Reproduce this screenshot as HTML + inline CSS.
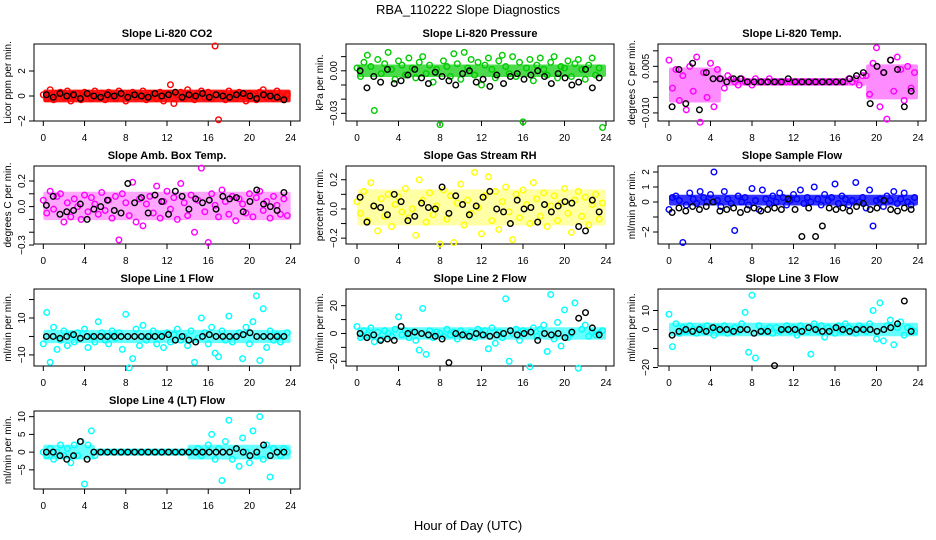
<!DOCTYPE html>
<html><head><meta charset="utf-8"><style>
body{margin:0;background:#fff}
svg{display:block;font-family:"Liberation Sans",sans-serif}
</style></head><body>
<svg id="chart" width="936" height="540" viewBox="0 0 936 540">
<text x="468" y="14" text-anchor="middle" font-size="13">RBA_110222  Slope Diagnostics</text>
<text x="468" y="530" text-anchor="middle" font-size="13">Hour of Day (UTC)</text>
</svg>
<script>
// ---- data ----
const xTicks=[0,4,8,12,16,20,24];
const co2Color=[0.1,-0.2,0.5,-0.3,0.2,0.3,-0.1,0.4,-0.4,0.0,0.2,-0.3,0.3,0.1,-0.2,0.4,-0.1,0.2,-0.3,0.3,0.0,-0.2,0.4,0.1,-0.4,0.2,0.3,-0.1,0.0,0.4,-0.3,0.2,0.1,-0.2,0.3,-0.4,0.2,0.9,-0.6,0.1,0.3,-0.2,0.5,0.0,-0.3,0.2,0.4,-0.1,0.3,-0.2,4.0,-1.9,0.2,-0.3,0.4,0.1,-0.2,0.3,0.0,-0.4,0.2,0.1,-0.3,0.3,0.5,-0.1,0.2,-0.2,0.4,0.0,-0.3,0.1];
const co2Black=[0.1,-0.1,0.2,0.0,0.1,-0.2,0.2,0.0,-0.1,0.1,0.0,0.2,-0.1,0.1,0.0,-0.1,0.2,0.0,0.1,0.3,-0.1,0.1,0.0,0.2,-0.1,0.1,0.0,-0.1,0.1,0.2,0.0,-0.2,0.1,0.0,-0.1,-0.3];
const presColor=[0.002,-0.004,0.006,0.011,0.003,-0.028,0.008,-0.002,0.005,0.013,0.001,-0.006,0.007,0.004,-0.003,0.009,0.002,-0.005,0.006,0.010,-0.002,0.004,-0.008,0.001,-0.038,0.007,0.003,-0.004,0.012,0.005,-0.006,0.013,0.002,0.008,-0.003,0.006,-0.010,0.004,0.009,0.001,-0.005,0.007,0.011,0.003,-0.002,0.010,-0.004,0.006,-0.036,0.002,0.008,-0.007,0.004,0.009,0.001,-0.003,0.006,0.010,-0.005,0.003,0.002,0.007,-0.004,0.005,0.008,0.001,-0.006,0.004,0.009,-0.003,0.002,-0.040];
const presBlack=[0.000,-0.012,-0.004,-0.008,0.001,-0.009,-0.007,-0.003,0.001,-0.005,-0.009,-0.001,-0.004,-0.007,-0.010,-0.002,0.000,-0.008,-0.006,-0.011,-0.003,-0.009,-0.004,-0.002,-0.006,-0.003,0.000,-0.004,-0.009,-0.002,-0.005,-0.010,-0.008,0.001,-0.012,-0.005];
const tempColor=[0.007,-0.002,0.004,-0.006,0.002,-0.009,0.005,-0.003,0.008,-0.013,0.003,-0.005,0.006,-0.008,0.004,0.001,-0.002,0.002,0.001,0,-0.001,0.001,0,0,-0.001,0.001,0,0,0,0.001,0,0,0,0,0,0,0,0,0,0,0,0,0,0,0,0,0,0,0,0,0,0,0.001,0,0.001,-0.001,0.002,0.002,-0.004,0.006,0.011,-0.008,0.003,-0.012,0.007,-0.003,0.008,0.004,-0.006,0.005,-0.002,0.003];
const tempBlack=[-0.008,0.004,-0.007,0.006,-0.009,0.003,0.001,0.001,0.000,0.001,0.001,0,0,0,0,0,0,0.001,0,0,0,0,0,0,0,0,0.001,0.002,0.003,-0.007,0.005,0.003,0.007,0.004,-0.008,-0.003];
const ambColor=[0.05,-0.05,0.12,-0.02,0.08,0.10,-0.12,0.03,-0.08,0.06,0.00,-0.10,0.09,-0.04,0.07,0.02,-0.06,0.11,-0.03,0.05,-0.09,0.08,-0.26,0.10,0.03,-0.07,0.19,-0.12,0.06,-0.15,0.02,0.08,-0.05,0.16,-0.09,0.04,0.12,-0.02,0.07,-0.10,0.18,0.03,-0.07,0.09,-0.20,0.05,0.30,-0.04,-0.28,0.10,0.01,-0.08,0.13,0.04,-0.06,0.08,-0.11,0.06,0.02,-0.05,0.10,-0.08,0.07,0.12,-0.03,0.04,-0.09,0.08,0.01,-0.06,0.06,-0.07];
const ambBlack=[0.01,0.08,-0.06,-0.04,-0.03,0.02,-0.10,-0.02,0.00,0.05,-0.03,-0.05,0.18,0.03,0.07,-0.05,0.09,0.04,-0.06,0.12,0.08,-0.02,0.06,0.03,0.05,-0.02,0.08,0.06,0.07,-0.04,0.04,0.13,0.02,0.00,-0.03,0.11];
const rhColor=[0.05,-0.03,0.12,-0.08,0.18,0.02,-0.15,0.07,-0.05,0.10,-0.12,0.03,0.08,-0.02,0.14,-0.06,0.00,-0.18,0.20,0.06,-0.09,0.11,-0.04,0.02,-0.24,0.13,-0.07,0.09,-0.23,0.04,0.17,-0.11,0.06,-0.03,0.25,0.01,-0.17,0.09,0.22,-0.08,0.12,-0.14,0.05,0.15,-0.02,-0.21,0.10,-0.06,0.13,0.03,-0.10,0.18,0.07,-0.05,0.11,-0.12,0.02,0.09,-0.08,0.04,0.14,-0.03,-0.16,0.06,0.12,-0.05,0.08,-0.11,0.03,0.10,-0.07,0.04];
const rhBlack=[0.08,-0.09,0.02,0.01,-0.04,0.10,0.05,-0.08,-0.05,0.04,0.01,0.00,0.15,-0.03,0.09,0.03,-0.04,0.02,0.08,0.12,0.00,-0.02,-0.10,0.06,0.00,0.01,-0.09,0.03,-0.02,0.02,0.05,0.04,-0.12,-0.15,0.06,-0.02];
const flowColor=[-0.5,0.3,0.4,0.1,-2.7,-0.2,0.6,0.2,-0.1,0.7,0.3,0.0,0.5,2.0,0.1,-0.3,0.7,0.2,-0.1,-1.9,0.4,0.0,0.3,-0.2,0.9,0.1,-0.5,0.8,0.2,-0.1,0.4,0.0,0.6,0.3,-0.2,0.1,0.5,0.2,0.8,-0.1,0.3,0.0,1.0,0.2,-0.2,0.5,0.1,0.3,1.2,-0.1,0.4,0.2,-0.2,0.1,1.3,0.0,0.3,-0.4,0.8,-1.6,0.1,0.2,-0.3,0.4,0.1,0.7,-0.1,0.2,0.6,0.0,-0.2,0.3];
const flowBlack=[-0.7,-0.4,-0.6,-0.3,-0.5,-0.3,0.0,-0.6,-0.5,-0.4,-0.7,-0.5,-0.4,-0.6,-0.5,-0.4,-0.5,0.2,-0.5,-2.3,-0.4,-2.3,-1.6,-0.4,-0.5,-0.4,-0.6,-0.3,-0.1,-0.5,-0.4,0.1,-0.5,-0.6,-0.4,-0.5];
const l1Color=[-4,13,-14,5,-7,-2,3,-5,1,-3,2,-1,4,-6,0,-3,8,2,-2,-4,3,-1,2,-7,12,-17,-12,4,-5,6,-2,0,3,-4,1,-6,2,-3,1,4,-2,0,-5,3,-14,-1,10,2,-4,5,-9,-11,3,-2,11,-3,0,2,-12,5,-4,8,22,-13,15,-6,3,-2,1,-3,0,2];
const l1Black=[0,0,-1,0,1,-1,0,0,0,0,0,0,0,0,0,0,0,0,1,-2,0,-2,-3,0,1,0,0,0,0,1,2,0,0,0,0,0];
const l2Color=[5,-3,2,-1,4,-6,1,-4,2,0,-2,3,12,-1,2,-3,1,-5,-12,18,-15,2,-3,1,0,-2,3,-1,1,-4,2,0,-2,1,-3,3,-1,2,-11,4,-7,1,-3,25,-20,0,3,-5,2,1,-24,4,-2,3,6,-13,28,-4,8,-9,17,-3,0,22,-25,3,6,-2,1,-1,0,2];
const l2Black=[0,-3,-1,-5,-4,-5,5,0,1,0,-1,-2,-4,-21,0,-1,-2,0,-1,-2,-1,0,2,-1,0,1,-5,0,-1,0,-3,1,11,15,4,-1];
const l3Color=[8,-9,3,-2,1,-1,2,0,-2,1,-1,2,0,-3,1,-1,2,-2,0,1,-1,3,9,-12,18,-15,2,-1,0,1,-2,1,-1,0,2,-1,1,-3,2,0,-1,-13,3,-1,2,-4,1,0,-2,2,-1,3,1,0,-2,2,1,-1,3,10,-5,14,-6,2,5,-8,1,4,-3,1,0,-1];
const l3Black=[-3,-1,0,-1,0,-1,1,0,0,-1,0,0,-2,-1,-1,-19,0,0,0,-1,1,0,-1,-1,1,0,-1,0,0,0,-1,0,1,3,15,-1];
const l4Color=[0,-1,1,-2,0,2,-1,1,-3,2,-1,3,-9,2,6,-1,0,0,0,0,0,0,0,0,0,0,0,0,0,0,0,0,0,0,0,0,0,0,0,0,0,0,0,0,0,1,-1,0,2,5,-2,1,-8,3,9,-2,1,-4,4,0,-3,6,-1,10,-2,2,-7,1,0,-1,1,0];
const l4Black=[0,0,-1,-2,-1,3,-2,0,0,0,0,0,0,0,0,0,0,0,0,0,0,0,0,0,0,0,0,0,1,0,-1,0,2,-1,0,0];
// dense-band extents: [startHour, endHour, low, high]
const co2Band=[[0,24,-0.35,0.35]];
const presBand=[[0,24,-0.003,0.003]];
const tempBand=[[0,5,-0.006,0.004],[5,19,-0.0006,0.0006],[19,24,-0.005,0.005]];
const ambBand=[[0,24,-0.09,0.1]];
const rhBand=[[0,24,-0.1,0.12]];
const flowBand=[[0,24,-0.1,0.35]];
const l1Band=[[0,24,-2.5,2.5]];
const l2Band=[[0,24,-3,3]];
const l3Band=[[0,24,-2.5,2.5]];
const l4Band=[[0,5,-1.5,1.5],[5,14,-0.4,0.4],[14,24,-1.5,1.5]];
const panelTitles=["Slope Li-820 CO2","Slope Li-820 Pressure","Slope Li-820 Temp.","Slope Amb. Box Temp.","Slope Gas Stream RH","Slope Sample Flow","Slope Line 1 Flow","Slope Line 2 Flow","Slope Line 3 Flow","Slope Line 4 (LT) Flow"];
const yTitles=["Licor ppm per min.","kPa per min.","degrees C per min.","degrees C per min.","percent per min.","ml/min per min.","ml/min per min.","ml/min per min.","ml/min per min.","ml/min per min."];
const yTickVals=[[-2,0,2],[0.01,0,-0.01,-0.02,-0.03],[0.01,0.005,0,-0.005,-0.01],[0.2,0.1,0,-0.1,-0.2,-0.3],[0.2,0.1,0,-0.1,-0.2],[2,1,0,-1,-2],[20,10,0,-10],[20,10,0,-10,-20],[10,0,-10,-20],[10,5,0,-5]];
const yTickLabels=[["-2","0","2"],["","0.00","","","-0.03"],["","0.005","","","-0.010"],["0.2","","0.0","","","-0.3"],["0.2","","0.0","","-0.2"],["2","1","0","","-2"],["","10","","-10"],["20","","0","","-20"],["10","0","","-20"],["10","5","0","-5"]];
const colorSeries=[co2Color,presColor,tempColor,ambColor,rhColor,flowColor,l1Color,l2Color,l3Color,l4Color];
const blackSeries=[co2Black,presBlack,tempBlack,ambBlack,rhBlack,flowBlack,l1Black,l2Black,l3Black,l4Black];
const bandSeries=[co2Band,presBand,tempBand,ambBand,rhBand,flowBand,l1Band,l2Band,l3Band,l4Band];
const seriesColors=["#ff0000","#00cc00","#ff00ff","#ff00ff","#ffff00","#0000ff","#00ffff","#00ffff","#00ffff","#00ffff"];
const bandOpacity=[0.9,0.7,0.45,0.35,0.35,0.8,0.6,0.6,0.6,0.6];
// ---- layout ----
const cols=[{l:34,r:300,x0:43.3,x24:290.7},{l:346,r:614,x0:357,x24:606},{l:658,r:926,x0:669,x24:918}];
const rows=[{t:44,b:121},{t:166,b:244},{t:289,b:366},{t:411,b:489}];
const yDom=[[4.16,-2],[0.0189,-0.0354],[0.0122,-0.0126],[0.317,-0.292],[0.294,-0.24],[2.4,-2.8],[25.7,-16],[32,-23.4],[21.3,-19.2],[11.6,-10.4]];

const NS="http://www.w3.org/2000/svg";
const svg=document.getElementById('chart');
function mk(tag,attrs,parent){const e=document.createElementNS(NS,tag);for(const k in attrs)e.setAttribute(k,attrs[k]);(parent||svg).appendChild(e);return e;}

panelTitles.forEach((title,p)=>{
  const c=cols[p%3], r=rows[Math.floor(p/3)];
  const g=mk('g',{});
  
  
  const xs=h=>c.x0+(h/24)*(c.x24-c.x0);
  const ys=v=>r.t+(yDom[p][0]-v)/(yDom[p][0]-yDom[p][1])*(r.b-r.t);
  const box=mk('rect',{x:c.l,y:r.t,width:c.r-c.l,height:r.b-r.t,fill:'none',stroke:'#000','stroke-width':1},g);
  
  
  const t=mk('text',{x:(c.l+c.r)/2,y:r.t-7,'text-anchor':'middle','font-size':11,'font-weight':'bold'},g);
  t.textContent=title;
  
  
  const xa=mk('g',{},g);
  
  
  mk('line',{x1:xs(xTicks[0]),x2:xs(xTicks[xTicks.length-1]),y1:r.b,y2:r.b,stroke:'#000'},xa);
  xTicks.forEach(v=>{
    mk('line',{x1:xs(v),x2:xs(v),y1:r.b,y2:r.b+5,stroke:'#000'},xa);
    const tl=mk('text',{x:xs(v),y:r.b+20,'text-anchor':'middle','font-size':10},xa);
    tl.textContent=v;
    
    
  });
  const ya=mk('g',{},g);
  
  
  yTickVals[p].forEach((v,i)=>{
    const y=ys(v);
    mk('line',{x1:c.l-5,x2:c.l,y1:y,y2:y,stroke:'#000'},ya);
    const lab=yTickLabels[p][i];
    if(lab){
      const tl=mk('text',{x:c.l-9,y:y,'text-anchor':'middle','font-size':10,transform:`rotate(-90 ${c.l-9} ${y})`},ya);
      tl.textContent=lab.replace('-','\u2212');
      
      
    }
  });
  const yt=mk('text',{x:c.l-23,y:(r.t+r.b)/2,'text-anchor':'middle','font-size':10,transform:`rotate(-90 ${c.l-23} ${(r.t+r.b)/2})`},g);
  yt.textContent=yTitles[p];
  
  
  bandSeries[p].forEach(b=>{
    const br=mk('rect',{x:xs(b[0]),y:ys(b[3])-2,width:xs(b[1])-xs(b[0]),height:ys(b[2])-ys(b[3])+4,fill:seriesColors[p],'fill-opacity':bandOpacity[p],rx:2},g);
    
    
  });
  const cs=colorSeries[p];
  const cg=mk('g',{},g);
  
  
  cs.forEach((v,i)=>{
    const h=i*24/cs.length;
    const pt=mk('circle',{cx:xs(h),cy:ys(v),r:2.8,fill:'none',stroke:seriesColors[p],'stroke-width':1.4},cg);
    
    
  });
  const bs=blackSeries[p];
  const bg=mk('g',{},g);
  
  
  bs.forEach((v,i)=>{
    const h=0.3+i*23.7/bs.length;
    const pt=mk('circle',{cx:xs(h),cy:ys(v),r:2.8,fill:'none',stroke:'#000','stroke-width':1.4},bg);
    
    
  });
});
</script>
</body></html>
